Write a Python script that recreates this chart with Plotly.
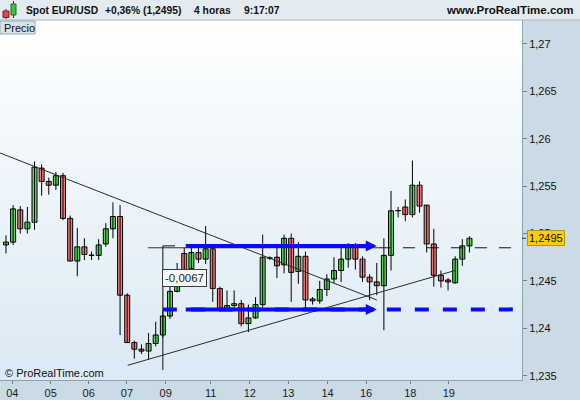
import plotly.graph_objects as go

# -- ------------------------------------------------------------------ data: EUR/USD 4h candles -- #
opens = [1.2488, 1.2491, 1.2525, 1.2505, 1.2512, 1.2569, 1.2555, 1.2551, 1.2561, 1.2516,
         1.2471, 1.2486, 1.2477, 1.2477, 1.2489, 1.2505, 1.2518, 1.2435, 1.2385, 1.2378,
         1.2376, 1.2384, 1.2393, 1.2413, 1.2439, 1.2479, 1.2463, 1.2480, 1.2473, 1.2484,
         1.2442, 1.2421, 1.2424, 1.2426, 1.2405, 1.2411, 1.2425, 1.2474, 1.2475, 1.2467,
         1.2495, 1.2460, 1.2476, 1.2431, 1.2429, 1.2441, 1.2452, 1.2461, 1.2473, 1.2486,
         1.2473, 1.2454, 1.2449, 1.2445, 1.2477, 1.2524, 1.2528, 1.2520, 1.2551, 1.2530,
         1.2489, 1.2456, 1.2451, 1.2448, 1.2473, 1.2487]
highs = [1.2498, 1.2530, 1.2529, 1.2528, 1.2576, 1.2573, 1.2559, 1.2565, 1.2564, 1.2519,
         1.2506, 1.2495, 1.2481, 1.2494, 1.2511, 1.2533, 1.2530, 1.2437, 1.2387, 1.2383,
         1.2395, 1.2407, 1.2418, 1.2445, 1.2469, 1.2485, 1.2486, 1.2485, 1.2508, 1.2486,
         1.2444, 1.2440, 1.2440, 1.2430, 1.2425, 1.2433, 1.2499, 1.2476, 1.2487, 1.2499,
         1.2500, 1.2491, 1.2481, 1.2433, 1.2450, 1.2457, 1.2475, 1.2489, 1.2490, 1.2490,
         1.2476, 1.2457, 1.2469, 1.2495, 1.2545, 1.2528, 1.2536, 1.2577, 1.2555, 1.2530,
         1.2505, 1.2461, 1.2453, 1.2476, 1.2494, 1.2497]
lows = [1.2479, 1.2488, 1.2500, 1.2500, 1.2504, 1.2540, 1.2541, 1.2546, 1.2514, 1.2471,
        1.2455, 1.2472, 1.2472, 1.2472, 1.2486, 1.2495, 1.2393, 1.2385, 1.2368, 1.2373,
        1.2367, 1.2381, 1.2390, 1.2410, 1.2438, 1.2462, 1.2459, 1.2469, 1.2468, 1.2428,
        1.2418, 1.2419, 1.2420, 1.2402, 1.2396, 1.2410, 1.2422, 1.2472, 1.2453, 1.2458,
        1.2428, 1.2447, 1.2419, 1.2425, 1.2426, 1.2434, 1.2448, 1.2449, 1.2464, 1.2462,
        1.2449, 1.2430, 1.2435, 1.2398, 1.2461, 1.2517, 1.2513, 1.2517, 1.2522, 1.2480,
        1.2444, 1.2443, 1.2440, 1.2447, 1.2466, 1.2480]
closes = [1.2491, 1.2526, 1.2505, 1.2512, 1.2570, 1.2555, 1.2551, 1.2561, 1.2516, 1.2471,
          1.2486, 1.2478, 1.2477, 1.2488, 1.2505, 1.2518, 1.2435, 1.2385, 1.2378, 1.2376,
          1.2384, 1.2393, 1.2413, 1.2439, 1.2446, 1.2462, 1.2480, 1.2473, 1.2484, 1.2442,
          1.2420, 1.2424, 1.2426, 1.2405, 1.2411, 1.2425, 1.2475, 1.2474, 1.2466, 1.2495,
          1.2459, 1.2476, 1.2430, 1.2429, 1.2441, 1.2452, 1.2461, 1.2473, 1.2486, 1.2473,
          1.2454, 1.2449, 1.2445, 1.2477, 1.2524, 1.2524, 1.2520, 1.2551, 1.2529, 1.2489,
          1.2456, 1.2450, 1.2449, 1.2473, 1.2487, 1.2495]

# -- day labels (position in candle index units)
day_labels = ['04', '05', '06', '07', '09', '11', '12', '13', '14', '16', '18', '19']
day_pos = [0.88, 6.27, 11.6, 16.97, 22.4, 28.7, 34.2, 39.6, 45.1, 50.5, 56.7, 62.1]

# -- price axis
price_ticks = [1.235, 1.24, 1.245, 1.25, 1.255, 1.26, 1.265, 1.27]
price_text = ['1,235', '1,24', '1,245', '1,25', '1,255', '1,26', '1,265', '1,27']
last_price = 1.2495

# -- user drawings (candle index, price)
trend_down_x, trend_down_y = [-0.84, 52.0], [1.2585, 1.2430]
trend_up_x, trend_up_y = [17.07, 62.97], [1.2361, 1.2461]
level_top, level_bottom = 1.2487, 1.2420
black_level = 1.2485
black_x = [19.9, 52.3, 71.1]
blue_dash_x = [22.0, 71.1]
arrow_x = [25.0, 52.0]
measure_x, measure_y = 22.0, [1.2487, 1.2356]
measure_text = '-0,0067'

# -- ------------------------------------------------------------------------------- layout helpers -- #
FONT = 'Liberation Sans, Arial, sans-serif'
W, H = 580, 400
ML, MR, MT, MB = 0, 58, 20, 20
PW, PH = W - ML - MR, H - MT - MB


def px(x):
    return (x - ML) / PW


def py(y):
    return (H - MB - y) / PH


n = len(opens)
idx = list(range(n))
up_col, dn_col = '#57d657', '#ef7b7b'

fig = go.Figure()

# wicks
wx, wy = [], []
for i in idx:
    wx += [i, i, None]
    wy += [lows[i], highs[i], None]
fig.add_trace(go.Scatter(x=wx, y=wy, mode='lines', line=dict(color='black', width=1),
                         hoverinfo='skip'))

# bodies
base = [min(o, c) for o, c in zip(opens, closes)]
height = [max(abs(c - o), 0.00003) for o, c in zip(opens, closes)]
colors = [up_col if c >= o else dn_col for o, c in zip(opens, closes)]
fig.add_trace(go.Bar(x=idx, y=height, base=base, width=0.7, marker_color=colors,
                     marker_line_color='black', marker_line_width=1))

# trend lines
fig.add_trace(go.Scatter(x=trend_down_x, y=trend_down_y, mode='lines',
                         line=dict(color='#2b2b2b', width=1)))
fig.add_trace(go.Scatter(x=trend_up_x, y=trend_up_y, mode='lines',
                         line=dict(color='#2b2b2b', width=1)))

# black level line: solid then dashed
fig.add_trace(go.Scatter(x=black_x[:2], y=[black_level] * 2, mode='lines',
                         line=dict(color='#333333', width=1)))
fig.add_trace(go.Scatter(x=black_x[1:], y=[black_level] * 2, mode='lines',
                         line=dict(color='#111111', width=1, dash='12px,12px')))

# measurement tool
fig.add_trace(go.Scatter(x=[measure_x, measure_x], y=measure_y, mode='lines',
                         line=dict(color='#111111', width=1)))
fig.add_trace(go.Scatter(x=[measure_x, measure_x + 1.7], y=[measure_y[0]] * 2, mode='lines',
                         line=dict(color='#111111', width=1)))

# blue dashed level
fig.add_trace(go.Scatter(x=blue_dash_x, y=[level_bottom] * 2, mode='lines',
                         line=dict(color='#0a0aff', width=4, dash='14px,14px')))

# background gradient of the price panel
bands = 36
shapes = []
for k in range(bands):
    t = k / (bands - 1)
    r = int(255 + (219 - 255) * t)
    g = int(255 + (234 - 255) * t)
    b = int(255 + (245 - 255) * t)
    shapes.append(dict(type='rect', xref='paper', yref='paper', x0=0, x1=1,
                       y0=1 - (k + 1) / bands, y1=1 - k / bands, layer='below',
                       fillcolor=f'rgb({r},{g},{b})', line=dict(width=0)))

# title bar
shapes.append(dict(type='rect', xref='paper', yref='paper', x0=px(0), x1=px(W), y0=py(20), y1=py(0),
                   fillcolor='#e3eaf0', line=dict(width=0), layer='above'))
shapes.append(dict(type='line', xref='paper', yref='paper', x0=px(0), x1=px(W), y0=py(20), y1=py(20),
                   line=dict(color='#a9b7c2', width=1), layer='above'))
# icon
shapes += [
    dict(type='line', xref='paper', yref='paper', x0=px(6), x1=px(6), y0=py(19), y1=py(9),
         line=dict(color='#333', width=1), layer='above'),
    dict(type='rect', xref='paper', yref='paper', x0=px(3), x1=px(9), y0=py(17.5), y1=py(11),
         fillcolor='#e34848', line=dict(color='#7a1c1c', width=1), layer='above'),
    dict(type='line', xref='paper', yref='paper', x0=px(13.5), x1=px(13.5), y0=py(18), y1=py(1),
         line=dict(color='#333', width=1), layer='above'),
    dict(type='rect', xref='paper', yref='paper', x0=px(11), x1=px(16), y0=py(15), y1=py(4),
         fillcolor='#3fc23f', line=dict(color='#1d6b1d', width=1), layer='above'),
]
# "Precio" tab
shapes.append(dict(type='rect', xref='paper', yref='paper', x0=px(0), x1=px(35), y0=py(34), y1=py(21),
                   fillcolor='#d8e2ea', line=dict(color='#98a8b4', width=1), layer='above'))
# last price tick on the axis
shapes.append(dict(type='line', xref='paper', yref='y', x0=1, x1=px(PW + 4), y0=last_price, y1=last_price,
                   line=dict(color='#333', width=1), layer='above'))

title_font = dict(size=10.3, color='#111')
annotations = [
    dict(xref='paper', yref='paper', x=px(24), y=py(10), xanchor='left', yanchor='middle',
         text='<b>Spot EUR/USD</b>', showarrow=False, font=title_font),
    dict(xref='paper', yref='paper', x=px(103), y=py(10), xanchor='left', yanchor='middle',
         text='<b>+0,36% (1,2495)</b>', showarrow=False, font=title_font),
    dict(xref='paper', yref='paper', x=px(192), y=py(10), xanchor='left', yanchor='middle',
         text='<b>4 horas</b>', showarrow=False, font=title_font),
    dict(xref='paper', yref='paper', x=px(242), y=py(10), xanchor='left', yanchor='middle',
         text='<b>9:17:07</b>', showarrow=False, font=title_font),
    dict(xref='paper', yref='paper', x=px(576), y=py(10), xanchor='right', yanchor='middle',
         text='<b>www.ProRealTime.com</b>', showarrow=False, font=dict(size=11.5, color='#111')),
    dict(xref='paper', yref='paper', x=px(2), y=py(27.5), xanchor='left', yanchor='middle',
         text='Precio', showarrow=False, font=dict(size=11, color='#111')),
    dict(xref='paper', yref='paper', x=px(3), y=py(373), xanchor='left', yanchor='middle',
         text='© ProRealTime.com', showarrow=False, font=dict(size=11, color='#111')),
    # last price label
    dict(xref='paper', yref='y', x=px(PW + 5), y=last_price, xanchor='left', yanchor='middle',
         text='1,2495', showarrow=False, bgcolor='#ffcc00', bordercolor='#b8950a', borderwidth=1,
         borderpad=1, font=dict(size=11, color='#111')),
    # measurement label
    dict(xref='x', yref='y', x=25.1, y=1.2453, text=measure_text, showarrow=False,
         bgcolor='#f6f9fb', bordercolor='#3a3a3a', borderwidth=1, borderpad=2,
         font=dict(size=11.5, color='#222')),
    # blue arrows
    dict(xref='x', yref='y', axref='x', ayref='y', x=arrow_x[1], y=level_top, ax=arrow_x[0],
         ay=level_top, text='', showarrow=True, arrowhead=2, arrowsize=0.55, arrowwidth=4,
         arrowcolor='#0a0aff', standoff=0),
    dict(xref='x', yref='y', axref='x', ayref='y', x=arrow_x[1], y=level_bottom, ax=arrow_x[0],
         ay=level_bottom, text='', showarrow=True, arrowhead=2, arrowsize=0.55, arrowwidth=4,
         arrowcolor='#0a0aff', standoff=0),
]

fig.update_layout(
    width=W, height=H, showlegend=False, barmode='overlay',
    margin=dict(l=ML, r=MR, t=MT, b=MB, pad=0),
    paper_bgcolor='#cbdbe5', plot_bgcolor='rgba(0,0,0,0)',
    font=dict(family=FONT, size=11, color='#111'),
    shapes=shapes, annotations=annotations,
    xaxis=dict(range=[-0.84, 72.37], tickvals=day_pos, ticktext=day_labels, ticks='outside',
               ticklen=3, tickcolor='#6f808c', showline=True, linecolor='#8fa1ae', showgrid=False,
               zeroline=False, tickfont=dict(size=11, color='#1a1a2a')),
    yaxis=dict(range=[1.23455, 1.27253], side='right', tickvals=price_ticks, ticktext=price_text,
               ticks='outside', ticklen=4, tickcolor='#6f808c', showline=True, linecolor='#8fa1ae',
               showgrid=False, zeroline=False, tickfont=dict(size=11, color='#111')),
)

# page body has a default margin; drop it so the figure sits at the window corner
fig.write_html("out.html", config={'displayModeBar': False},
               post_script="document.body.style.margin='0';")
